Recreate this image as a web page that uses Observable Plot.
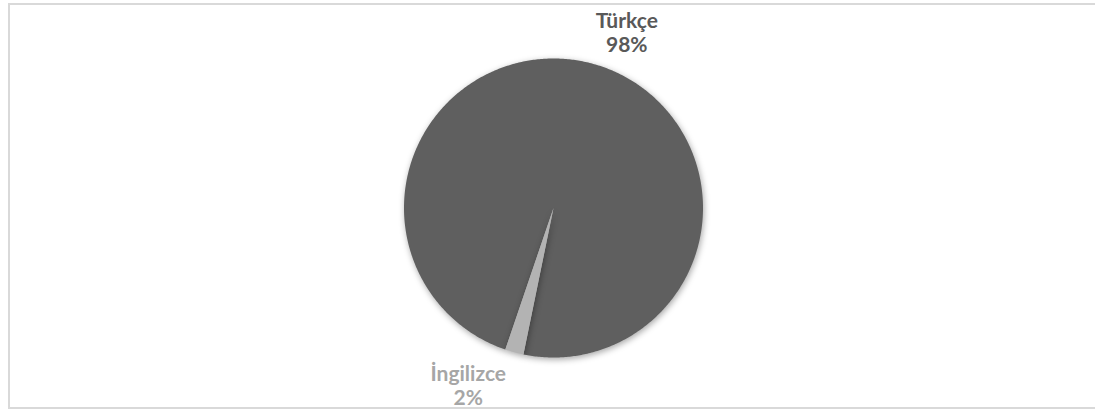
<!DOCTYPE html>
<html>
<head>
<meta charset="utf-8">
<script src="https://cdn.jsdelivr.net/npm/d3@7"></script>
<script src="https://cdn.jsdelivr.net/npm/@observablehq/plot@0.6"></script>
<style>
  html, body { margin: 0; padding: 0; background: #fff; }
  #wrap { position: relative; width: 1095px; height: 414px; overflow: hidden; }
  #frame { position: absolute; left: 8px; top: 3px; width: 1100px; height: 406px; border: 2px solid #d9d9d9; box-sizing: border-box; }
  #chart { position: absolute; left: 0; top: 0; }
  #chart svg g[aria-label="line"] { filter: drop-shadow(1px 2px 3px rgba(0,0,0,0.35)); }
</style>
</head>
<body>
<div id="wrap"><div id="frame"></div><div id="chart"></div></div>
<script>
// Data
const categories = ["Türkçe", "İngilizce"];
const values = [98, 2];
const sliceColors = ["#5f5f5f", "#b3b3b3"];
const labelColors = ["#595959", "#a6a6a6"];
const labelText = ["Türkçe\n98%", "İngilizce\n2%"];
// label anchor positions in pie units (radius = 1)
const labelX = [0.49, -0.57];
const labelY = [1.175, -1.185];

const startDeg = 198.8;
const pie = d3.pie().sort(null).startAngle(startDeg * Math.PI / 180).endAngle(startDeg * Math.PI / 180 + 2 * Math.PI);
const arcs = pie(values);

// build polygon outlines for each slice
const pts = [];
arcs.forEach((a, i) => {
  const n = Math.max(4, Math.ceil((a.endAngle - a.startAngle) / 0.01));
  pts.push({cat: categories[i], x: 0, y: 0});
  for (let k = 0; k <= n; k++) {
    const t = a.startAngle + (a.endAngle - a.startAngle) * k / n;
    pts.push({cat: categories[i], x: Math.sin(t), y: Math.cos(t)});
  }
  pts.push({cat: categories[i], x: 0, y: 0});
});

const labels = categories.map((c, i) => ({cat: c, text: labelText[i], x: labelX[i], y: labelY[i], color: labelColors[i]}));

const cx = 553, cy = 207.5, r = 149.5;
const chart = Plot.plot({
  width: 1095,
  height: 414,
  margin: 0,
  x: {domain: [-1, 1], range: [cx - r, cx + r], axis: null},
  y: {domain: [-1, 1], range: [cy + r, cy - r], axis: null},
  style: {background: "transparent"},
  marks: [
    Plot.line(pts.filter(d => d.cat === categories[0]), {x: "x", y: "y", fill: sliceColors[0], stroke: "none", curve: "linear"}),
    Plot.line(pts.filter(d => d.cat === categories[1]), {x: "x", y: "y", fill: sliceColors[1], stroke: "none", curve: "linear"}),
    Plot.text(labels, {x: "x", y: "y", text: "text", fill: "color", fontSize: 21, fontWeight: "bold", fontFamily: "Lato", lineHeight: 1.17})
  ]
});
document.getElementById("chart").appendChild(chart);
</script>
</body>
</html>
